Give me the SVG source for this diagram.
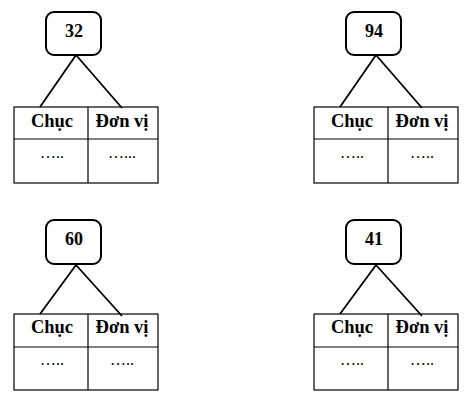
<svg xmlns="http://www.w3.org/2000/svg" width="472" height="406" viewBox="0 0 472 406">
<style>
.box{fill:#fff;stroke:#000;stroke-width:2}
.cell{fill:none;stroke:#000;stroke-width:1.2}
.ln{stroke:#000;stroke-width:1.8;fill:none}
text{font-family:"Liberation Serif","Times New Roman",serif;fill:#000;text-anchor:middle}
.num{font-size:18px;font-weight:bold}
.hd{font-size:18.5px;font-weight:bold}
.dot{font-size:16px}
</style>
<rect width="472" height="406" fill="#fff"/>
<g id="connectors">
<path class="ln" d="M76 55 L40 107 M76 55 L122 108"/>
<path class="ln" d="M376 55 L340 107 M376 55 L422 108"/>
<path class="ln" d="M76 265 L40 314 M76 265 L122 316"/>
<path class="ln" d="M376 265 L340 314 M376 265 L422 316"/>
</g>
<g id="n32">
<rect class="box" x="46" y="12" width="55" height="43" rx="8"/>
<text class="num" x="74" y="37">32</text>
</g>
<g id="t32">
<rect class="cell" x="14" y="107" width="144" height="76"/>
<path class="cell" d="M88 107 V183 M14 139 H158"/>
<text class="hd" x="52" y="127">Chục</text>
<text class="hd" x="122" y="127">Đơn vị</text>
<text class="dot" x="52" y="158">…..</text>
<text class="dot" x="122" y="158">…...</text>
</g>
<g id="n94">
<rect class="box" x="346" y="12" width="55" height="43" rx="8"/>
<text class="num" x="374" y="37">94</text>
</g>
<g id="t94">
<rect class="cell" x="314" y="107" width="144" height="76"/>
<path class="cell" d="M388 107 V183 M314 139 H458"/>
<text class="hd" x="352" y="127">Chục</text>
<text class="hd" x="422" y="127">Đơn vị</text>
<text class="dot" x="352" y="158">…..</text>
<text class="dot" x="422" y="158">…..</text>
</g>
<g id="n60">
<rect class="box" x="46" y="220" width="55" height="44" rx="8"/>
<text class="num" x="74" y="245">60</text>
</g>
<g id="t60">
<rect class="cell" x="14" y="314" width="144" height="76"/>
<path class="cell" d="M88 314 V390 M14 347 H158"/>
<text class="hd" x="52" y="333">Chục</text>
<text class="hd" x="122" y="333">Đơn vị</text>
<text class="dot" x="52" y="365">…..</text>
<text class="dot" x="122" y="365">…..</text>
</g>
<g id="n41">
<rect class="box" x="346" y="220" width="55" height="44" rx="8"/>
<text class="num" x="374" y="245">41</text>
</g>
<g id="t41">
<rect class="cell" x="314" y="314" width="144" height="76"/>
<path class="cell" d="M388 314 V390 M314 347 H458"/>
<text class="hd" x="352" y="333">Chục</text>
<text class="hd" x="422" y="333">Đơn vị</text>
<text class="dot" x="352" y="365">…..</text>
<text class="dot" x="422" y="365">…..</text>
</g>
</svg>
